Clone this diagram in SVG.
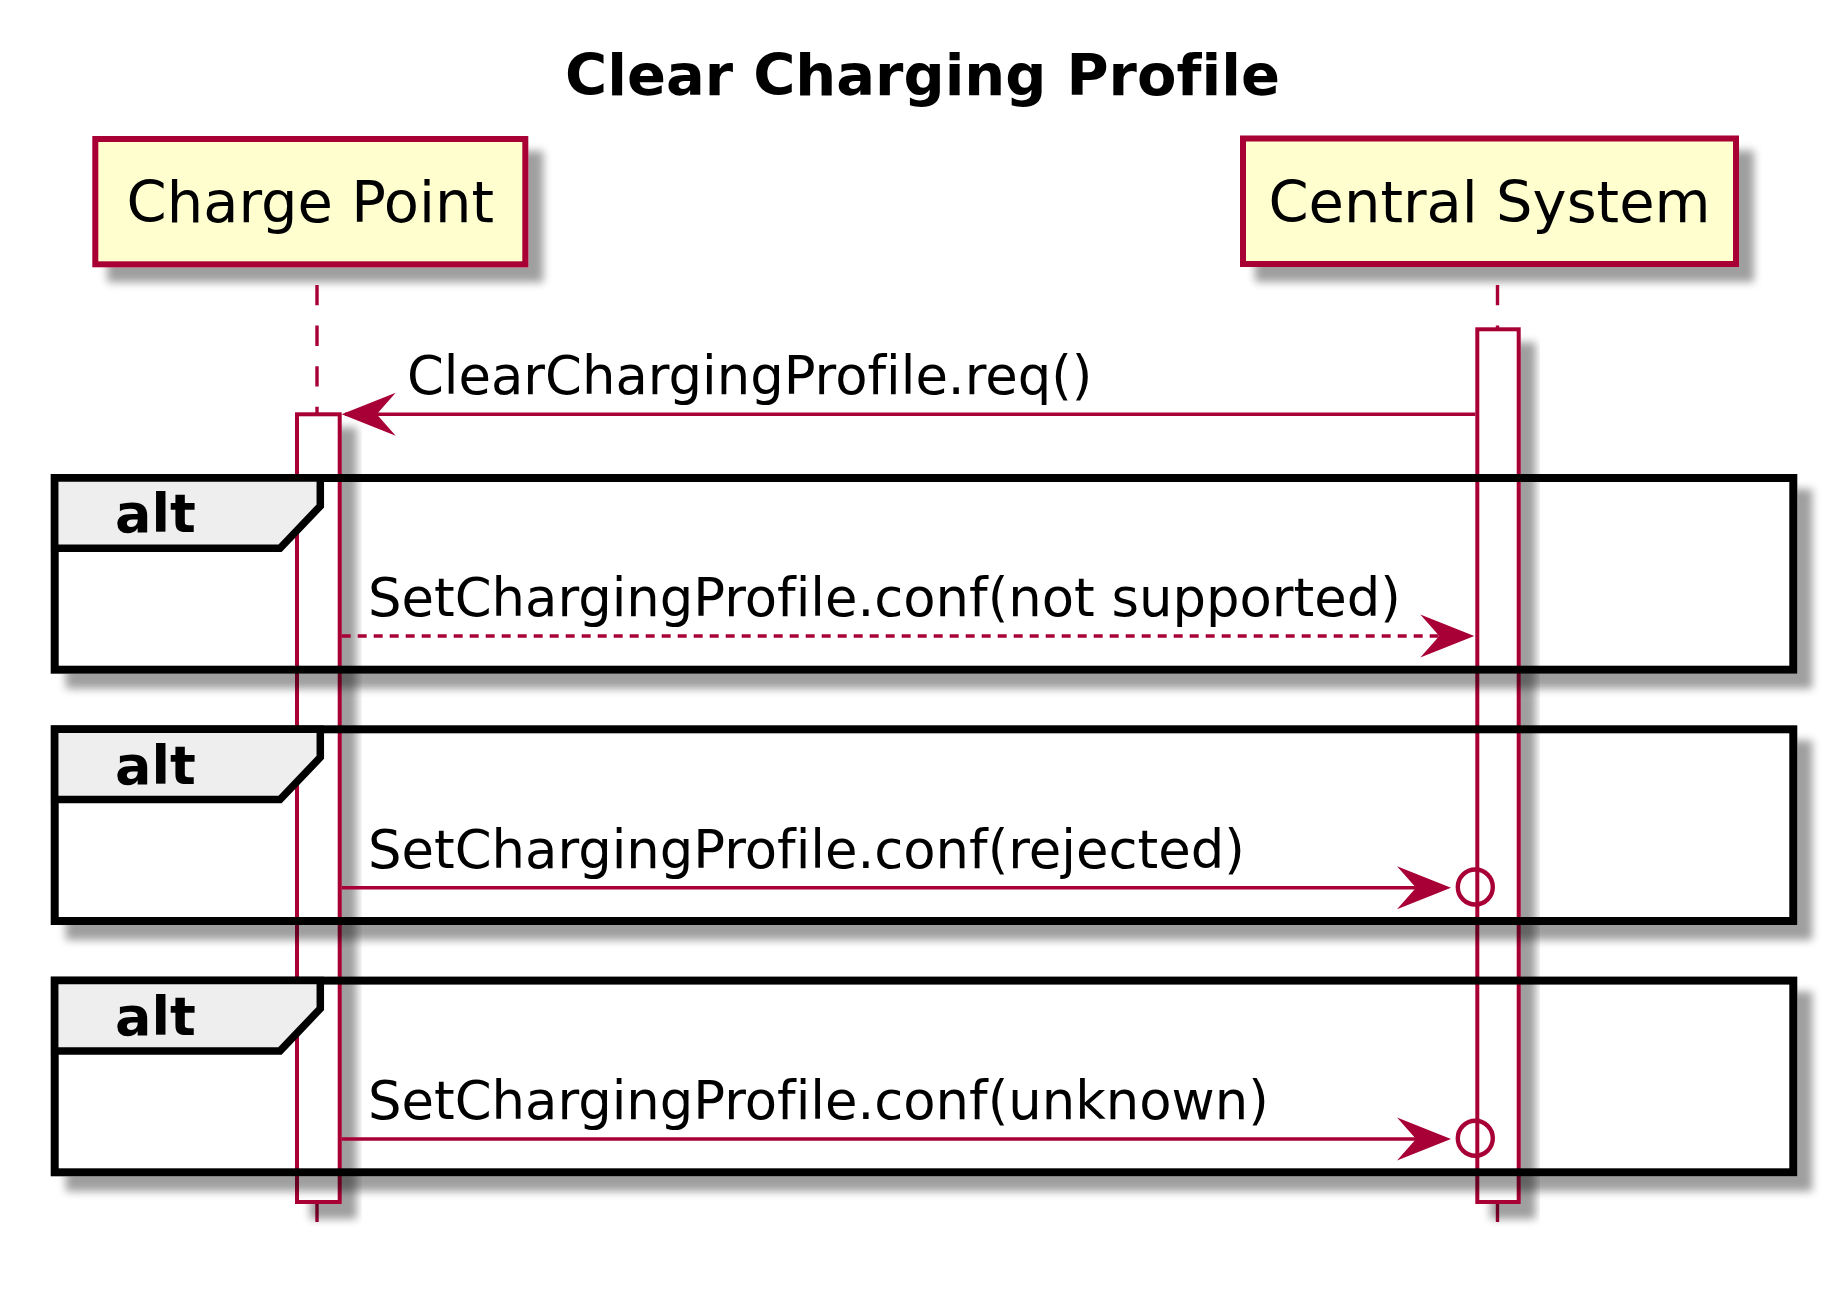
<svg xmlns="http://www.w3.org/2000/svg" width="1839" height="1289" viewBox="0 0 1839 1289">
<style>
  text{font-variant-ligatures:none;font-feature-settings:"liga" 0}
  .title{font-family:"DejaVu Sans","Liberation Sans",sans-serif;font-weight:bold;font-size:57.5px;fill:#000}
  .pbox{fill:#FEFECE;stroke:#A80036;stroke-width:6}
  .ptext{font-family:"DejaVu Sans","Liberation Sans",sans-serif;font-size:57.5px;fill:#000;text-anchor:middle}
  .life{stroke:#A80036;stroke-width:3.4;stroke-dasharray:20.3 20.3;fill:none}
  .act{fill:#FFFFFF;stroke:#A80036;stroke-width:4}
  .frame{fill:none;stroke:#000;stroke-width:8}
  .tab{fill:#EEEEEE;stroke:#000;stroke-width:7.5;stroke-linejoin:miter}
  .alt{font-family:"DejaVu Sans","Liberation Sans",sans-serif;font-weight:bold;font-size:54px;fill:#000}
  .msg{stroke:#A80036;stroke-width:3.4;fill:none}
  .dash{stroke-dasharray:9 7}
  .head{fill:#A80036;stroke:none}
  .lost{fill:none;stroke:#A80036;stroke-width:4.4}
  .mtext{font-family:"DejaVu Sans","Liberation Sans",sans-serif;font-size:52.8px;fill:#000}
</style>
<defs>
  <filter id="sh" x="-50%" y="-20%" width="200%" height="150%">
    <feGaussianBlur in="SourceAlpha" stdDeviation="4" result="b"/>
    <feOffset in="b" dx="15" dy="15" result="o"/>
    <feComponentTransfer in="o" result="s"><feFuncA type="linear" slope="0.38"/></feComponentTransfer>
    <feMerge><feMergeNode in="s"/><feMergeNode in="SourceGraphic"/></feMerge>
  </filter>
  <filter id="fsh" x="-5%" y="-10%" width="115%" height="125%">
    <feGaussianBlur in="SourceAlpha" stdDeviation="4" result="b"/>
    <feOffset in="b" dx="15" dy="15" result="o"/>
    <feComponentTransfer in="o"><feFuncA type="linear" slope="0.38"/></feComponentTransfer>
  </filter>
  <mask id="fm" maskUnits="userSpaceOnUse" x="0" y="0" width="1839" height="1289">
    <rect x="0" y="0" width="1839" height="1289" fill="#fff"/>
    <rect x="50.7" y="474" width="1746.6" height="199.7" fill="#000"/>
    <rect x="50.7" y="725.3" width="1746.6" height="199.7" fill="#000"/>
    <rect x="50.7" y="976.6" width="1746.6" height="199.7" fill="#000"/>
  </mask>
</defs>
<rect width="1839" height="1289" fill="#FFFFFF"/>

<g id="title">
  <text class="title" x="922.5" y="95" text-anchor="middle">Clear Charging Profile</text>
</g>

<g id="charge-point">
  <rect class="pbox" x="95.3" y="139" width="430" height="125.3" filter="url(#sh)"/>
  <text class="ptext" x="310.3" y="222">Charge Point</text>
</g>
<g id="central-system">
  <rect class="pbox" x="1243" y="138.5" width="493" height="125.5" filter="url(#sh)"/>
  <text class="ptext" x="1489.5" y="222">Central System</text>
</g>

<g id="lifelines">
  <line class="life" x1="317" y1="285" x2="317" y2="414"/>
  <line class="life" x1="317" y1="1202" x2="317" y2="1222"/>
  <line class="life" x1="1497.5" y1="285" x2="1497.5" y2="329"/>
  <line class="life" x1="1497.5" y1="1202" x2="1497.5" y2="1222"/>
</g>

<g id="activations">
  <rect id="act-cp" class="act" x="297" y="414.3" width="42.7" height="787.7" filter="url(#sh)"/>
  <rect id="act-cs" class="act" x="1477.3" y="329.3" width="41.4" height="872.7" filter="url(#sh)"/>
</g>

<g id="frame-shadows" mask="url(#fm)">
  <g filter="url(#fsh)">
    <rect x="50.7" y="474" width="1746.6" height="199.7" fill="#000"/>
    <rect x="50.7" y="725.3" width="1746.6" height="199.7" fill="#000"/>
    <rect x="50.7" y="976.6" width="1746.6" height="199.7" fill="#000"/>
  </g>
</g>

<g id="alt1">
  <rect class="frame" x="54.7" y="478" width="1738.6" height="191.7"/>
  <path class="tab" d="M54.7,478 H320.3 V506 L280,548.3 H54.7 Z"/>
  <text class="alt" x="115" y="532.3">alt</text>
</g>
<g id="alt2">
  <rect class="frame" x="54.7" y="729.3" width="1738.6" height="191.7"/>
  <path class="tab" d="M54.7,729.3 H320.3 V757.3 L280,799.6 H54.7 Z"/>
  <text class="alt" x="115" y="783.6">alt</text>
</g>
<g id="alt3">
  <rect class="frame" x="54.7" y="980.6" width="1738.6" height="191.7"/>
  <path class="tab" d="M54.7,980.6 H320.3 V1008.6 L280,1050.9 H54.7 Z"/>
  <text class="alt" x="115" y="1034.9">alt</text>
</g>

<g id="connectors">
  <g id="m1">
    <line class="msg" x1="1475.3" y1="414.3" x2="345" y2="414.3"/>
    <polygon class="head" points="395.7,392.8 341.7,414.3 395.7,435.8 376.7,414.3"/>
    <text class="mtext" x="407" y="394">ClearChargingProfile.req()</text>
  </g>
  <g id="m2">
    <line class="msg dash" x1="341.7" y1="636" x2="1460" y2="636"/>
    <polygon class="head" points="1420.3,614.5 1474.3,636 1420.3,657.5 1439.3,636"/>
    <text class="mtext" x="368" y="616">SetChargingProfile.conf(not supported)</text>
  </g>
  <g id="m3">
    <line class="msg" x1="341.7" y1="887.8" x2="1445" y2="887.8"/>
    <polygon class="head" points="1397,866.3 1451,887.8 1397,909.3 1416,887.8"/>
    <circle class="lost" cx="1475.3" cy="887" r="17.5"/>
    <text class="mtext" x="368" y="868">SetChargingProfile.conf(rejected)</text>
  </g>
  <g id="m4">
    <line class="msg" x1="341.7" y1="1139" x2="1445" y2="1139"/>
    <polygon class="head" points="1397,1117.5 1451,1139 1397,1160.5 1416,1139"/>
    <circle class="lost" cx="1475.3" cy="1138.2" r="17.5"/>
    <text class="mtext" x="368" y="1119">SetChargingProfile.conf(unknown)</text>
  </g>
</g>
</svg>
